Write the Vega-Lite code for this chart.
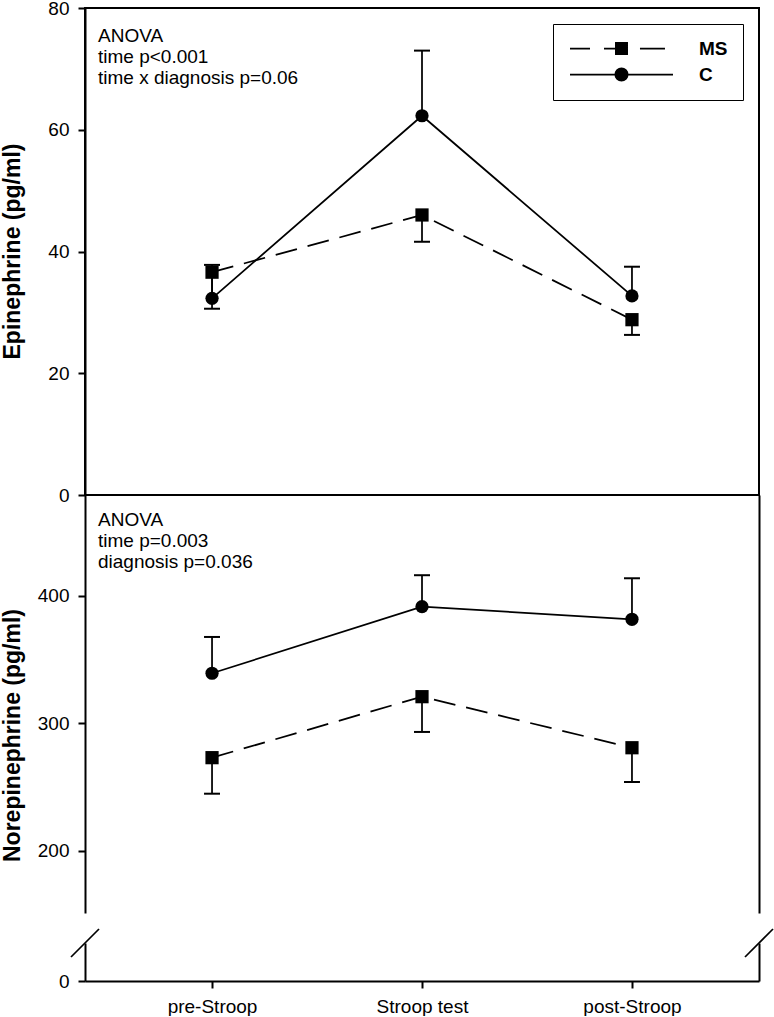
{
  "$schema": "https://vega.github.io/schema/vega-lite/v6.json",
  "padding": {"left": 0, "top": -2, "right": 0, "bottom": 0},
  "background": "white",
  "datasets": {
    "epi": [
      {"t": 1, "time": "pre-Stroop", "group": "MS", "mean": 36.6, "err_end": 30.6},
      {"t": 2, "time": "Stroop test", "group": "MS", "mean": 46.0, "err_end": 41.6},
      {"t": 3, "time": "post-Stroop", "group": "MS", "mean": 28.8, "err_end": 26.3},
      {"t": 1, "time": "pre-Stroop", "group": "C", "mean": 32.3, "err_end": 37.8},
      {"t": 2, "time": "Stroop test", "group": "C", "mean": 62.3, "err_end": 73.0},
      {"t": 3, "time": "post-Stroop", "group": "C", "mean": 32.7, "err_end": 37.5}
    ],
    "nor": [
      {"t": 1, "time": "pre-Stroop", "group": "MS", "mean": 273.0, "err_end": 244.7},
      {"t": 2, "time": "Stroop test", "group": "MS", "mean": 320.9, "err_end": 293.2},
      {"t": 3, "time": "post-Stroop", "group": "MS", "mean": 280.8, "err_end": 253.9},
      {"t": 1, "time": "pre-Stroop", "group": "C", "mean": 339.3, "err_end": 367.8},
      {"t": 2, "time": "Stroop test", "group": "C", "mean": 391.6, "err_end": 416.3},
      {"t": 3, "time": "post-Stroop", "group": "C", "mean": 381.7, "err_end": 413.9}
    ]
  },
  "spacing": 0,
  "bounds": "flush",
  "resolve": {"scale": {"x": "independent", "y": "independent", "shape": "independent"}},
  "vconcat": [
    {
      "width": 674,
      "height": 487,
      "view": {"stroke": "black", "strokeWidth": 2},
      "data": {"name": "epi"},
      "title": {"text": ["ANOVA", "time p<0.001", "time x diagnosis p=0.06"], "offset": -89, "dx": 13},
      "encoding": {
        "x": {"field": "t", "type": "quantitative", "scale": {"domain": [0.395, 3.605], "nice": false, "zero": false}, "axis": null}
      },
      "resolve": {"axis": {"y": "independent"}},
      "layer": [
        {
          "transform": [{"filter": "datum.group === 'MS'"}],
          "mark": {"type": "line", "stroke": "black", "strokeWidth": 1.75, "strokeDash": [22, 11]},
          "encoding": {
            "y": {"field": "mean", "type": "quantitative", "scale": {"domain": [0, 80], "nice": false},
                  "axis": {"values": [0, 20, 40, 60, 80], "title": "Epinephrine (pg/ml)", "titleX": -66, "titleY": 243}}
          }
        },
        {
          "transform": [{"filter": "datum.group === 'C'"}],
          "mark": {"type": "line", "stroke": "black", "strokeWidth": 1.75},
          "encoding": {"y": {"field": "mean", "type": "quantitative", "axis": null}}
        },
        {
          "mark": {"type": "rule", "stroke": "black", "strokeWidth": 1.75},
          "encoding": {"y": {"field": "mean", "type": "quantitative", "axis": null}, "y2": {"field": "err_end"}}
        },
        {
          "mark": {"type": "point", "shape": "stroke", "size": 256, "stroke": "black", "strokeWidth": 2, "opacity": 1},
          "encoding": {"y": {"field": "err_end", "type": "quantitative", "axis": null}}
        },
        {
          "transform": [{"filter": "datum.group === 'MS'"}],
          "mark": {"type": "point", "shape": "square", "filled": true, "fill": "black", "opacity": 1, "size": 175},
          "encoding": {"y": {"field": "mean", "type": "quantitative", "axis": null}}
        },
        {
          "transform": [{"filter": "datum.group === 'C'"}],
          "mark": {"type": "point", "shape": "circle", "filled": true, "fill": "black", "opacity": 1, "size": 175},
          "encoding": {"y": {"field": "mean", "type": "quantitative", "axis": null}}
        },
        {
          "transform": [{"filter": "false"}],
          "mark": {"type": "point", "filled": false, "color": "black", "strokeWidth": 1.75, "opacity": 1, "size": 196},
          "encoding": {
            "y": {"field": "mean", "type": "quantitative", "axis": null},
            "shape": {
              "field": "group", "type": "nominal",
              "scale": {"domain": ["MS", "C"], "range": [
                "M-7.357,0H-4.5M-2.5,0H0M-0.8,-0.8H0.8V0.8H-0.8ZM-0.8,-0.55H0.8M-0.8,-0.3H0.8M-0.8,-0.05H0.8M-0.8,0.2H0.8M-0.8,0.45H0.8M-0.8,0.6H0.8M2.64,0H6.21",
                "M-7.357,0H7.357M0.88,0L0.813,0.337L0.622,0.622L0.337,0.813L0,0.88L-0.337,0.813L-0.622,0.622L-0.813,0.337L-0.88,0L-0.813,-0.337L-0.622,-0.622L-0.337,-0.813L0,-0.88L0.337,-0.813L0.622,-0.622L0.813,-0.337ZM-0.46,-0.75H0.46M-0.724,-0.5H0.724M-0.844,-0.25H0.844M-0.844,0.25H0.844M-0.724,0.5H0.724M-0.46,0.75H0.46"
              ]},
              "legend": {
                "title": null, "orient": "top-right", "offset": 16, "padding": 15,
                "strokeColor": "black", "labelFontSize": 19, "labelFontWeight": "bold", "labelColor": "black",
                "labelOffset": 68, "symbolOffset": 44, "rowPadding": 5, "symbolSize": 196, "symbolStrokeWidth": 1.75,
                "symbolOpacity": 1,
                "encode": {"legend": {"update": {"strokeWidth": {"value": 2}}}}
              }
            }
          }
        }
      ]
    },
    {
      "spacing": 30,
      "bounds": "flush",
      "resolve": {"scale": {"x": "independent", "y": "independent"}},
      "vconcat": [
        {
          "width": 674,
          "height": 418,
          "data": {"name": "nor"},
          "title": {"text": ["ANOVA", "time p=0.003", "diagnosis p=0.036"], "offset": -77, "dx": 13},
          "encoding": {
            "x": {"field": "t", "type": "quantitative", "scale": {"domain": [0.395, 3.605], "nice": false, "zero": false}, "axis": null}
          },
          "resolve": {"axis": {"y": "independent"}},
          "layer": [
            {
              "transform": [{"filter": "datum.group === 'MS'"}],
              "mark": {"type": "line", "stroke": "black", "strokeWidth": 1.75, "strokeDash": [22, 11]},
              "encoding": {
                "y": {"field": "mean", "type": "quantitative", "scale": {"domain": [151, 479.3], "nice": false, "zero": false},
                      "axis": {"values": [200, 300, 400], "title": "Norepinephrine (pg/ml)", "titleX": -66, "titleY": 240}}
              }
            },
            {
              "transform": [{"filter": "datum.group === 'C'"}],
              "mark": {"type": "line", "stroke": "black", "strokeWidth": 1.75},
              "encoding": {"y": {"field": "mean", "type": "quantitative", "axis": null}}
            },
            {
              "mark": {"type": "rule", "stroke": "black", "strokeWidth": 1.75},
              "encoding": {"y": {"field": "mean", "type": "quantitative", "axis": null}, "y2": {"field": "err_end"}}
            },
            {
              "mark": {"type": "point", "shape": "stroke", "size": 256, "stroke": "black", "strokeWidth": 2, "opacity": 1},
              "encoding": {"y": {"field": "err_end", "type": "quantitative", "axis": null}}
            },
            {
              "transform": [{"filter": "datum.group === 'MS'"}],
              "mark": {"type": "point", "shape": "square", "filled": true, "fill": "black", "opacity": 1, "size": 175},
              "encoding": {"y": {"field": "mean", "type": "quantitative", "axis": null}}
            },
            {
              "transform": [{"filter": "datum.group === 'C'"}],
              "mark": {"type": "point", "shape": "circle", "filled": true, "fill": "black", "opacity": 1, "size": 175},
              "encoding": {"y": {"field": "mean", "type": "quantitative", "axis": {"orient": "right", "labels": false, "ticks": false, "title": null}}}
            },
            {
              "data": {"values": [{}]},
              "mark": {"type": "point", "shape": "M-1,1L1,-1", "size": 784, "stroke": "black", "strokeWidth": 1.75, "filled": false, "opacity": 1},
              "encoding": {"x": {"datum": 0.395}, "y": {"datum": 151, "axis": null}}
            },
            {
              "data": {"values": [{}]},
              "mark": {"type": "point", "shape": "M-1,1L1,-1", "size": 784, "stroke": "black", "strokeWidth": 1.75, "filled": false, "opacity": 1},
              "encoding": {"x": {"datum": 3.605}, "y": {"datum": 151, "axis": null}}
            }
          ]
        },
        {
          "width": 674,
          "height": 38,
          "data": {"values": [{}]},
          "resolve": {"axis": {"y": "independent", "x": "independent"}},
          "layer": [
            {
              "mark": {"type": "point", "shape": "M-1,1L1,-1", "size": 784, "stroke": "black", "strokeWidth": 1.75, "filled": false, "opacity": 1},
              "encoding": {
                "x": {"datum": 0.395, "type": "quantitative", "scale": {"domain": [0.395, 3.605], "nice": false, "zero": false},
                      "axis": {"orient": "bottom", "values": [1, 2, 3], "title": null, "labelPadding": 9, "labelFlush": false,
                               "labelExpr": "datum.value == 1 ? 'pre-Stroop' : datum.value == 2 ? 'Stroop test' : 'post-Stroop'"}},
                "y": {"datum": 30, "type": "quantitative", "scale": {"domain": [0, 30], "nice": false, "zero": false},
                      "axis": {"values": [0], "title": null}}
              }
            },
            {
              "mark": {"type": "point", "shape": "M-1,1L1,-1", "size": 784, "stroke": "black", "strokeWidth": 1.75, "filled": false, "opacity": 1},
              "encoding": {
                "x": {"datum": 3.605, "type": "quantitative", "axis": null},
                "y": {"datum": 30, "type": "quantitative", "axis": {"orient": "right", "labels": false, "ticks": false, "title": null}}
              }
            }
          ]
        }
      ]
    }
  ],
  "config": {
    "font": "Liberation Sans",
    "view": {"stroke": null},
    "axis": {
      "grid": false, "domainColor": "black", "domainWidth": 2, "tickColor": "black", "tickWidth": 2, "tickSize": 7,
      "labelColor": "black", "labelFontSize": 19, "labelPadding": 9, "labelFont": "Liberation Sans",
      "titleColor": "black", "titleFontSize": 23, "titleFontWeight": "bold", "titleFont": "Liberation Sans",
      "titleBaseline": "alphabetic", "titleAngle": 270
    },
    "title": {
      "font": "Liberation Sans", "fontSize": 19, "fontWeight": "normal", "color": "black",
      "anchor": "start", "frame": "group", "baseline": "alphabetic", "lineHeight": 21
    },
    "legend": {"labelFont": "Liberation Sans"}
  }
}
